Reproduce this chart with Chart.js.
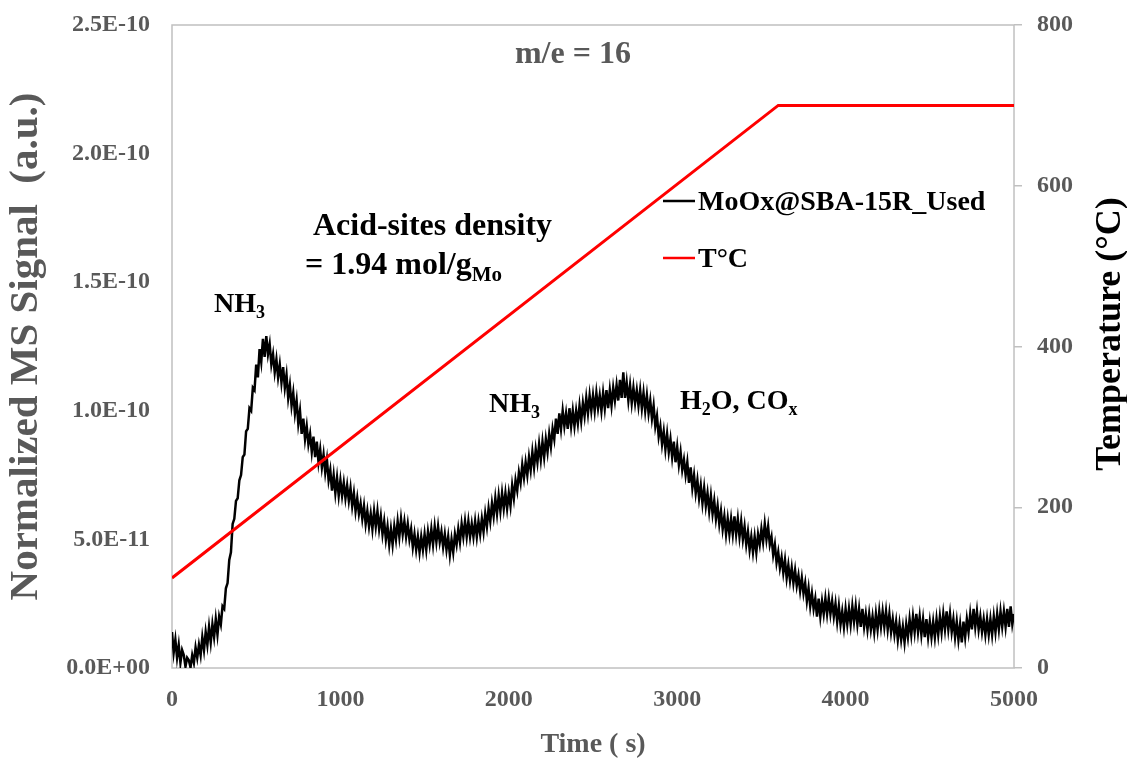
<!DOCTYPE html>
<html>
<head>
<meta charset="utf-8">
<script src="https://cdn.jsdelivr.net/npm/chart.js@4.4.1/dist/chart.umd.min.js"></script>
<style>
  body { margin: 0; background: #fff; }
</style>
</head>
<body>
<canvas id="tpd_chart" width="1127" height="762"></canvas>
<script>
const sampleStep = 10;
const msSignalE11 = [
    1.4, 0.6, 1.1, 0.4, 0.9, 0.2, 0.7, 0.5, 0.05, 0.4,
    0.3, 0.02, 0.5, 0.2, 0.8, 0.4, 0.9, 0.5, 1.2, 0.7,
    1.4, 0.9, 1.6, 1.0, 1.7, 1.2, 1.9, 1.3, 2.0, 1.7,
    2.4, 2.3, 3.1, 3.3, 4.2, 4.5, 5.6, 5.8, 6.5, 6.6,
    7.3, 7.5, 8.2, 8.3, 9.2, 9.3, 10.1, 10.0, 10.9, 10.8,
    11.8, 11.3, 12.4, 11.9, 12.8, 12.1, 12.9, 12.2, 12.6, 11.8,
    12.2, 11.5, 12.0, 11.3, 11.8, 11.1, 11.7, 10.9, 11.4, 10.5,
    11.0, 10.2, 10.7, 9.9, 10.4, 9.5, 10.0, 9.1, 9.7, 8.9,
    9.4, 8.7, 9.1, 8.4, 9.0, 8.2, 8.8, 8.0, 8.5, 7.8,
    8.3, 7.6, 8.1, 7.3, 7.7, 6.9, 7.5, 6.8, 7.4, 6.7,
    7.3, 6.7, 7.2, 6.6, 7.1, 6.5, 7.0, 6.3, 6.8, 6.1,
    6.6, 6.0, 6.4, 5.8, 6.3, 5.6, 6.1, 5.5, 6.0, 5.4,
    6.1, 5.5, 6.1, 5.4, 5.9, 5.2, 5.7, 5.0, 5.5, 4.8,
    5.4, 4.8, 5.5, 5.0, 5.7, 5.1, 5.8, 5.2, 5.7, 5.1,
    5.6, 5.0, 5.4, 4.7, 5.2, 4.6, 5.1, 4.5, 5.1, 4.6,
    5.2, 4.6, 5.3, 4.8, 5.4, 4.8, 5.5, 4.9, 5.5, 4.9,
    5.3, 4.7, 5.2, 4.6, 5.1, 4.4, 5.0, 4.5, 5.2, 4.8,
    5.4, 4.9, 5.6, 5.1, 5.7, 5.1, 5.7, 5.1, 5.6, 5.1,
    5.7, 5.1, 5.7, 5.2, 5.8, 5.3, 6.0, 5.5, 6.2, 5.7,
    6.4, 5.9, 6.6, 6.0, 6.7, 6.1, 6.8, 6.2, 6.8, 6.2,
    6.8, 6.3, 7.1, 6.6, 7.3, 6.9, 7.6, 7.2, 7.9, 7.4,
    8.0, 7.5, 8.2, 7.7, 8.4, 7.8, 8.5, 8.0, 8.7, 8.1,
    8.8, 8.2, 8.9, 8.4, 9.1, 8.6, 9.3, 8.9, 9.7, 9.1,
    9.9, 9.3, 10.0, 9.4, 9.9, 9.3, 10.1, 9.4, 10.0, 9.4,
    10.0, 9.5, 10.2, 9.6, 10.3, 9.8, 10.5, 9.9, 10.6, 10.0,
    10.6, 10.0, 10.7, 10.1, 10.6, 10.0, 10.7, 10.1, 10.8, 10.1,
    10.8, 10.2, 10.9, 10.4, 11.0, 10.4, 11.2, 10.5, 11.5, 10.5,
    11.1, 10.4, 11.0, 10.3, 10.9, 10.3, 10.8, 10.2, 10.8, 10.1,
    10.7, 10.0, 10.6, 9.9, 10.4, 9.7, 10.2, 9.4, 9.8, 9.0,
    9.4, 8.7, 9.2, 8.5, 9.1, 8.4, 8.9, 8.2, 8.8, 8.0,
    8.6, 7.9, 8.4, 7.7, 8.1, 7.5, 8.0, 7.2, 7.8, 7.0,
    7.5, 6.8, 7.3, 6.6, 7.1, 6.4, 7.0, 6.3, 6.8, 6.1,
    6.7, 6.0, 6.5, 5.8, 6.3, 5.6, 6.1, 5.4, 5.9, 5.2,
    5.8, 5.2, 5.8, 5.2, 5.9, 5.2, 5.8, 5.1, 5.7, 5.0,
    5.5, 4.8, 5.3, 4.6, 5.1, 4.5, 5.1, 4.5, 5.2, 4.8,
    5.4, 4.9, 5.6, 5.0, 5.5, 4.8, 5.1, 4.4, 4.8, 4.1,
    4.5, 3.9, 4.3, 3.7, 4.2, 3.5, 4.0, 3.4, 3.9, 3.3,
    3.8, 3.2, 3.6, 3.0, 3.5, 2.9, 3.3, 2.6, 3.1, 2.4,
    2.9, 2.3, 2.7, 2.0, 2.7, 2.0, 2.6, 2.1, 2.7, 2.1,
    2.7, 2.1, 2.6, 2.0, 2.5, 1.8, 2.4, 1.7, 2.2, 1.6,
    2.3, 1.7, 2.3, 1.7, 2.4, 1.8, 2.4, 1.7, 2.3, 1.6,
    2.3, 1.6, 2.1, 1.5, 2.1, 1.5, 2.0, 1.4, 2.1, 1.5,
    2.2, 1.6, 2.2, 1.6, 2.2, 1.5, 2.1, 1.4, 1.9, 1.3,
    1.8, 1.1, 1.7, 1.1, 1.6, 1.0, 1.7, 1.2, 1.9, 1.3,
    2.0, 1.4, 2.1, 1.4, 2.0, 1.3, 1.9, 1.2, 1.9, 1.2,
    1.8, 1.2, 1.8, 1.2, 1.9, 1.3, 2.0, 1.4, 2.1, 1.5,
    2.2, 1.5, 2.1, 1.4, 1.9, 1.2, 1.8, 1.1, 1.7, 1.0,
    1.8, 1.2, 1.9, 1.4, 2.1, 1.5, 2.3, 1.6, 2.2, 1.5,
    2.0, 1.4, 1.9, 1.3, 1.9, 1.3, 1.9, 1.3, 2.0, 1.4,
    2.1, 1.5, 2.2, 1.6, 2.2, 1.6, 2.3, 1.6, 2.4, 1.7,
    2.1
];

// temperature program
const tempTime = [0, 3600, 5000];
const tempValues = [112, 700, 700];

const xTicks = [0, 1000, 2000, 3000, 4000, 5000];
const seriesNames = ["MoOx@SBA-15R_Used", "T°C"];

const FONT = "'Liberation Serif', 'Times New Roman', serif";
const GREY = "#595959";
const FRAME = "#c0c0c0";

let msPoints = [];
for (let i = 0; i < msSignalE11.length; i++) {
    msPoints.push({ x: i * sampleStep, y: msSignalE11[i] * 1e-11 });
}
let tempPoints = [];
for (let i = 0; i < tempTime.length; i++) {
    tempPoints.push({ x: tempTime[i], y: tempValues[i] });
}

function sciLabel(v) {
    let s = Number(v).toExponential(1).toUpperCase();
    return s.replace(/E([+-])(\d)$/, "E$10$2");
}

// draws text with subscript parts: parts = [[text, isSub], ...]
function drawRich(ctx, x, y, parts, size, color) {
    ctx.fillStyle = color;
    ctx.textBaseline = "middle";
    ctx.textAlign = "left";
    let cx = x;
    parts.forEach(([txt, sub]) => {
        const fs = sub ? Math.round(size * 0.65) : size;
        ctx.font = `bold ${fs}px ${FONT}`;
        ctx.fillText(txt, cx, sub ? y + size * 0.3 : y);
        cx += ctx.measureText(txt).width;
    });
}

const annotations = [
    { t: 2381, v: 23.83, parts: [["m/e = 16", false]], size: 32, color: GREY, center: true },
    { t: 249, v: 14.11, parts: [["NH", false], ["3", true]], size: 28, color: "#000" },
    { t: 837, v: 17.15, parts: [["Acid-sites density", false]], size: 32, color: "#000" },
    { t: 790, v: 15.63, parts: [["= 1.94 mol/g", false], ["Mo", true]], size: 32, color: "#000" },
    { t: 1882, v: 10.22, parts: [["NH", false], ["3", true]], size: 28, color: "#000" },
    { t: 3017, v: 10.34, parts: [["H", false], ["2", true], ["O, CO", false], ["x", true]], size: 28, color: "#000" }
];

const decorations = {
    id: "decorations",
    beforeDatasetsDraw(chart) {
        const { ctx, chartArea: a } = chart;
        ctx.save();
        ctx.strokeStyle = FRAME;
        ctx.lineWidth = 1.5;
        ctx.strokeRect(a.left, a.top, a.right - a.left, a.bottom - a.top);
        ctx.restore();
    },
    afterDatasetsDraw(chart) {
        const { ctx } = chart;
        const xs = chart.scales.x, ys = chart.scales.y;
        ctx.save();
        annotations.forEach(an => {
            let px = xs.getPixelForValue(an.t);
            const py = ys.getPixelForValue(an.v * 1e-11);
            if (an.center) {
                ctx.font = `bold ${an.size}px ${FONT}`;
                px -= ctx.measureText(an.parts.map(p => p[0]).join("")).width / 2;
            }
            drawRich(ctx, px, py, an.parts, an.size, an.color);
        });

        // legend inside plot
        const colors = ["#000000", "#ff0000"];
        const legendY = [201, 258];
        seriesNames.forEach((name, i) => {
            ctx.strokeStyle = colors[i];
            ctx.lineWidth = 2.5;
            ctx.beginPath();
            ctx.moveTo(663, legendY[i]);
            ctx.lineTo(695, legendY[i]);
            ctx.stroke();
            drawRich(ctx, 698, legendY[i] + 2, [[name, false]], 28, "#000");
        });

        // right axis title, reading bottom to top
        ctx.translate(1111, 334);
        ctx.rotate(-Math.PI / 2);
        ctx.font = `bold 36px ${FONT}`;
        ctx.fillStyle = "#000";
        ctx.textAlign = "center";
        ctx.textBaseline = "middle";
        ctx.fillText("Temperature (°C)", 0, 0);
        ctx.restore();
    }
};

function fitVertical(width) {
    return s => {
        s.width = width;
        s.paddingTop = 0;
        s.paddingBottom = 0;
    };
}

new Chart("tpd_chart", {
    type: "line",
    data: {
        datasets: [{
            label: seriesNames[0],
            data: msPoints,
            borderColor: "#000000",
            backgroundColor: "#000000",
            borderWidth: 2.5,
            pointRadius: 0,
            tension: 0,
            fill: false,
            yAxisID: "y",
            order: 2
        }, {
            label: seriesNames[1],
            data: tempPoints,
            borderColor: "#ff0000",
            backgroundColor: "#ff0000",
            borderWidth: 3,
            pointRadius: 0,
            tension: 0,
            fill: false,
            yAxisID: "y1",
            order: 1
        }]
    },
    options: {
        responsive: false,
        animation: false,
        layout: { padding: { top: 25, left: 0, right: 0, bottom: 0 } },
        plugins: {
            legend: { display: false },
            title: { display: false },
            tooltip: { enabled: false }
        },
        scales: {
            x: {
                type: "linear",
                min: 0,
                max: 5000,
                afterBuildTicks: s => { s.ticks = xTicks.map(v => ({ value: v })); },
                grid: { display: false, drawTicks: false },
                border: { display: false },
                ticks: {
                    padding: 17,
                    color: GREY,
                    font: { family: FONT, size: 24, weight: "bold" },
                    maxRotation: 0,
                    callback: v => String(v)
                },
                title: {
                    display: true,
                    text: "Time ( s)",
                    color: GREY,
                    font: { family: FONT, size: 28, weight: "bold" },
                    padding: { top: 0, bottom: 0 }
                },
                afterFit: s => { s.height = 94; s.paddingLeft = 0; s.paddingRight = 0; }
            },
            y: {
                position: "left",
                min: 0,
                max: 2.5e-10,
                grid: { display: false, drawTicks: false },
                border: { display: false },
                ticks: {
                    stepSize: 5e-11,
                    padding: 22,
                    color: GREY,
                    font: { family: FONT, size: 24, weight: "bold" },
                    callback: v => sciLabel(v)
                },
                title: {
                    display: true,
                    text: "Normalized MS Signal  (a.u.)",
                    color: GREY,
                    font: { family: FONT, size: 41, weight: "bold" },
                    padding: { top: 2, bottom: 0 }
                },
                afterFit: fitVertical(172)
            },
            y1: {
                position: "right",
                min: 0,
                max: 800,
                grid: {
                    drawOnChartArea: false,
                    drawTicks: true,
                    tickLength: 8,
                    color: FRAME,
                    lineWidth: 1.5
                },
                border: { display: false },
                ticks: {
                    stepSize: 200,
                    padding: 15,
                    color: GREY,
                    font: { family: FONT, size: 24, weight: "bold" }
                },
                afterFit: fitVertical(113)
            }
        }
    },
    plugins: [decorations]
});
</script>
</body>
</html>
